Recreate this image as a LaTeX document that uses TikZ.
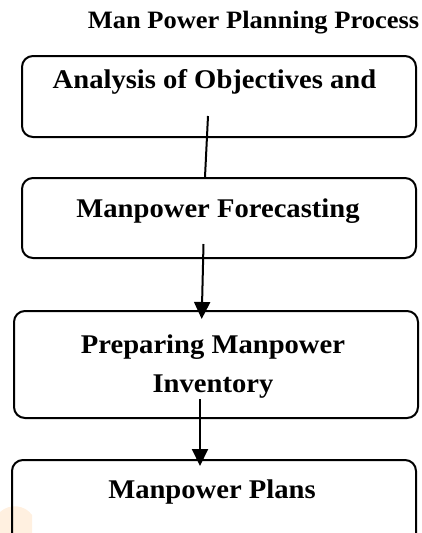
\documentclass[tikz,border=0pt]{standalone}
\usepackage{fontspec}
\setmainfont[FakeStretch=1.06]{Liberation Serif}
\usetikzlibrary{arrows.meta}
\begin{document}
\begin{tikzpicture}[x=1pt,y=-1pt,
  box/.style={draw=black,line width=2pt,rounded corners=11pt,anchor=north west,inner sep=0pt},
  lbl/.style={anchor=base,inner sep=0pt,font=\fontsize{27}{39}\selectfont\bfseries},
  ttl/.style={anchor=base,inner sep=0pt,font=\fontsize{25}{29}\selectfont\bfseries},
  conn/.style={line width=2pt},
  arr/.style={line width=2pt,-{Triangle[width=16pt,length=17pt]}}]
\useasboundingbox (0,0) rectangle (421,533);
\clip (0,0) rectangle (421,533);
% faint watermark glow
\fill[orange!12] (0,512) .. controls (10,503) and (25,505) .. (32,515) -- (32,533) -- (0,533) -- cycle;
% title
\node[ttl] (title) at (253.5,28) {Man Power Planning Process};
% boxes
\node[box,minimum width=394pt,minimum height=81pt] (b1) at (21,55) {};
\node[box,minimum width=394pt,minimum height=80pt] (b2) at (21,177) {};
\node[box,minimum width=404pt,minimum height=107pt] (b3) at (13,310) {};
\node[box,minimum width=404pt,minimum height=100pt] (b4) at (11,459) {};
% labels
\node[lbl] (t1) at (214.5,88) {Analysis of Objectives and};
\node[lbl] (t2) at (218,217) {Manpower Forecasting};
\node[lbl] (t3a) at (213,353) {Preparing Manpower};
\node[lbl] (t3b) at (213,392) {Inventory};
\node[lbl] (t4) at (212,498) {Manpower Plans};
% connector end points
\coordinate (c1s) at (208,116);
\coordinate (c1e) at (205,177);
\coordinate (c2s) at (203.5,244);
\coordinate (c2e) at (201.7,319);
\coordinate (c3s) at (200,399);
\coordinate (c3e) at (200,466);
\draw[conn] (c1s) -- (c1e);
\draw[arr] (c2s) -- (c2e);
\draw[arr] (c3s) -- (c3e);
\end{tikzpicture}
\end{document}
